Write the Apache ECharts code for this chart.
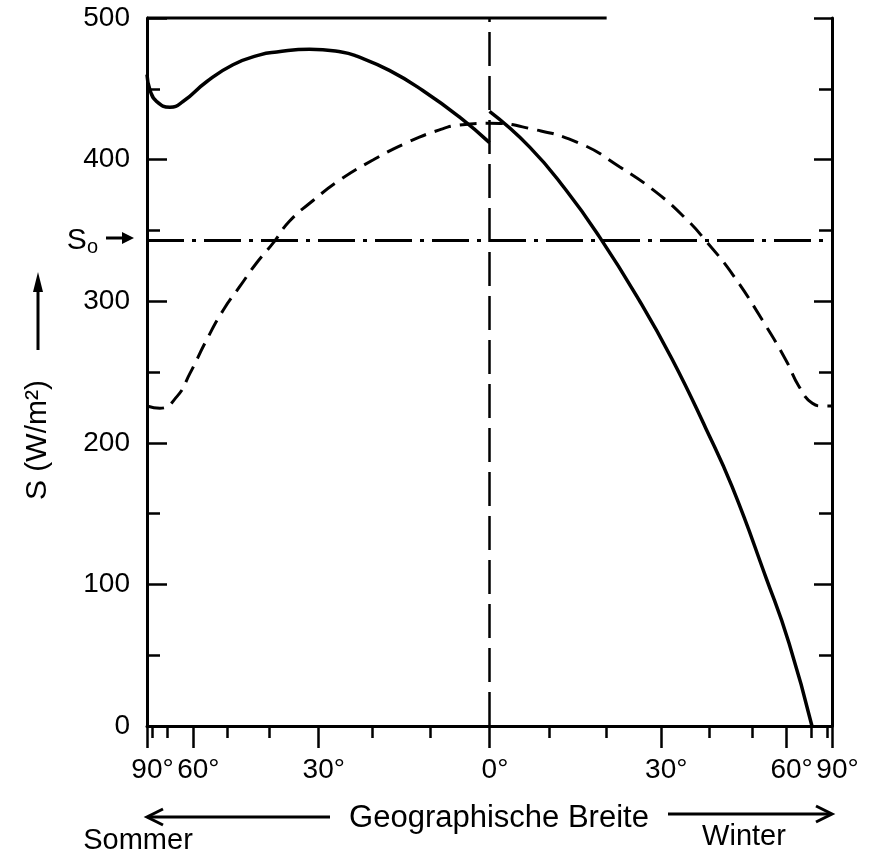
<!DOCTYPE html>
<html><head><meta charset="utf-8">
<script src="https://cdn.jsdelivr.net/npm/echarts@6/dist/echarts.min.js"></script>
<style>html,body{margin:0;padding:0;background:#fff}#c{width:874px;height:853px}</style>
</head><body><div id="c"></div>
<script>
// Latitude: negative = summer hemisphere, positive = winter hemisphere (degrees)
const summerSolidLat = [-90, -82.4, -76.3, -68.9, -63.5, -55.7, -48.5, -42.1, -38.4, -31.7, -25.6, -22.8, -17.0, -11.3, -5.0, 0];
const summerSolidS   = [460, 449, 441, 437, 441, 455, 467, 474, 476, 478, 476, 473, 463, 449, 430, 412];
const winterSolidLat = [0, 6.7, 12.9, 18.7, 25.9, 32.2, 39.2, 45.1, 53.8, 61.0, 70.3];
const winterSolidS   = [434, 409, 378.5, 345.6, 300.8, 259.2, 210, 169, 105, 58.5, 0];
const meanLat = [-90, -74.2, -65.9, -61.0, -55.7, -51.0, -46.8, -42.9, -39.2, -35.7, -31.0, -25.9, -19.9, -14.1, -8.4, -5.0, 0, 6.7, 15.2, 22.3, 29.1, 35.0, 39.2, 45.2, 52.8, 59.9, 64.7, 70.5, 76.3, 90];
const meanS   = [226, 224.4, 232.6, 249, 272.6, 293.8, 310.4, 326.8, 341, 356.6, 371.1, 385.6, 399.7, 411.7, 421, 424.4, 425.6, 422, 411.6, 395, 377, 358.2, 342.5, 319, 286.7, 258.5, 239.6, 227.9, 226, 226];
const S0 = 343;
const frameTopLat = [-90, 20];
const frameTopS = [500, 500];
const majorTickLat = [-90, -60, -30, 0, 30, 60, 90];
const minorTickLat = [-80, -70, -50, -40, -20, -10, 10, 20, 40, 50, 70, 80];

const toX = lat => Math.sin(lat * Math.PI / 180);
const pairs = (lats, vals) => lats.map((l, i) => [toX(l), vals[i]]);
const FONT = 'Liberation Sans';
const BLACK = '#000';

const chart = echarts.init(document.getElementById('c'), null, {renderer: 'canvas'});
const majorX = majorTickLat.map(toX);
const minorX = minorTickLat.map(toX);

chart.setOption({
  animation: false,
  backgroundColor: '#fff',
  grid: {left: 147, right: 42, top: 18, bottom: 127},
  xAxis: [
    {
      type: 'value', min: -1, max: 1, position: 'bottom',
      axisLine: {show: true, onZero: false, lineStyle: {color: BLACK, width: 3}},
      axisTick: {show: true, inside: false, length: 22, customValues: majorX, lineStyle: {color: BLACK, width: 2.5}},
      axisLabel: {
        customValues: majorX, margin: 30, fontSize: 28, fontFamily: FONT, color: BLACK,
        padding: [0, 0, 0, 11], showMinLabel: true, showMaxLabel: true,
        formatter: v => Math.round(Math.abs(Math.asin(Math.max(-1, Math.min(1, v)))) * 180 / Math.PI) + '°'
      },
      splitLine: {show: false}
    },
    {
      type: 'value', min: -1, max: 1, position: 'bottom',
      axisLine: {show: false, onZero: false},
      axisTick: {show: true, inside: false, length: 12, customValues: minorX, lineStyle: {color: BLACK, width: 2.5}},
      axisLabel: {show: false},
      splitLine: {show: false}
    }
  ],
  yAxis: [
    {
      type: 'value', min: 0, max: 500, interval: 100, position: 'left',
      axisLine: {show: true, onZero: false, lineStyle: {color: BLACK, width: 3}},
      axisTick: {show: true, inside: true, length: 20, lineStyle: {color: BLACK, width: 2.5}},
      minorTick: {show: true, splitNumber: 2, length: 13, lineStyle: {color: BLACK, width: 2.5}},
      axisLabel: {margin: 17, fontSize: 28, fontFamily: FONT, color: BLACK},
      splitLine: {show: false}, minorSplitLine: {show: false}
    },
    {
      type: 'value', min: 0, max: 500, interval: 100, position: 'right',
      axisLine: {show: true, onZero: false, lineStyle: {color: BLACK, width: 3}},
      axisTick: {show: true, inside: true, length: 18, lineStyle: {color: BLACK, width: 2.5}},
      minorTick: {show: true, splitNumber: 2, length: 13, lineStyle: {color: BLACK, width: 2.5}},
      axisLabel: {show: false},
      splitLine: {show: false}, minorSplitLine: {show: false}
    }
  ],
  series: [
    {
      name: 'Jahresmittel', type: 'line', data: pairs(meanLat, meanS),
      smooth: 0.5, showSymbol: false, silent: true,
      lineStyle: {color: BLACK, width: 3, type: [17, 9]},
      markLine: {
        silent: true, symbol: 'none', animation: false,
        data: [
          {
            yAxis: S0,
            lineStyle: {color: BLACK, width: 3, type: [37, 8, 4, 8]},
            label: {
              show: true, position: 'start', distance: 49,
              formatter: '{s|S}{o|o}',
              rich: {
                s: {fontSize: 30, fontFamily: FONT, color: BLACK, lineHeight: 34},
                o: {fontSize: 20, fontFamily: FONT, color: BLACK, verticalAlign: 'bottom', lineHeight: 22, padding: [16, 0, 0, 0]}
              }
            }
          },
          {
            xAxis: 0,
            lineStyle: {color: BLACK, width: 2.5, type: [34, 10]},
            label: {show: false}
          }
        ]
      }
    },
    {
      name: 'Sommer', type: 'line', data: pairs(summerSolidLat, summerSolidS),
      smooth: 0.5, showSymbol: false, silent: true,
      lineStyle: {color: BLACK, width: 3.5}
    },
    {
      name: 'Winter', type: 'line', data: pairs(winterSolidLat, winterSolidS),
      smooth: 0.5, showSymbol: false, silent: true,
      lineStyle: {color: BLACK, width: 3.5}
    },
    {
      name: 'Rahmen', type: 'line', data: pairs(frameTopLat, frameTopS),
      showSymbol: false, silent: true, clip: false,
      lineStyle: {color: BLACK, width: 3}
    }
  ],
  graphic: [
    {type: 'text', x: 38, y: 440, rotation: Math.PI / 2,
      style: {text: 'S (W/m²)', font: '30px "Liberation Sans"', fill: BLACK, align: 'center', verticalAlign: 'middle'}},
    {type: 'polyline', shape: {points: [[38, 350], [38, 285]]}, style: {stroke: BLACK, lineWidth: 3, fill: null}},
    {type: 'polygon', shape: {points: [[33, 292], [38, 272], [43, 292]]}, style: {fill: BLACK}},
    {type: 'polyline', shape: {points: [[106, 238], [126, 238]]}, style: {stroke: BLACK, lineWidth: 3, fill: null}},
    {type: 'polygon', shape: {points: [[122, 232], [134, 238], [122, 244]]}, style: {fill: BLACK}},
    {type: 'text', x: 499, y: 818,
      style: {text: 'Geographische Breite', font: '31px "Liberation Sans"', fill: BLACK, align: 'center', verticalAlign: 'middle'}},
    {type: 'polyline', shape: {points: [[148, 817], [330, 817]]}, style: {stroke: BLACK, lineWidth: 3, fill: null}},
    {type: 'polyline', shape: {points: [[163, 809], [147, 817], [163, 825]]}, style: {stroke: BLACK, lineWidth: 3, fill: null}},
    {type: 'polyline', shape: {points: [[668, 814], [831, 814]]}, style: {stroke: BLACK, lineWidth: 3, fill: null}},
    {type: 'polyline', shape: {points: [[816, 806], [832, 814], [816, 822]]}, style: {stroke: BLACK, lineWidth: 3, fill: null}},
    {type: 'text', x: 138, y: 841,
      style: {text: 'Sommer', font: '29px "Liberation Sans"', fill: BLACK, align: 'center', verticalAlign: 'middle'}},
    {type: 'text', x: 744, y: 837,
      style: {text: 'Winter', font: '29px "Liberation Sans"', fill: BLACK, align: 'center', verticalAlign: 'middle'}}
  ]
});
</script>
</body></html>
